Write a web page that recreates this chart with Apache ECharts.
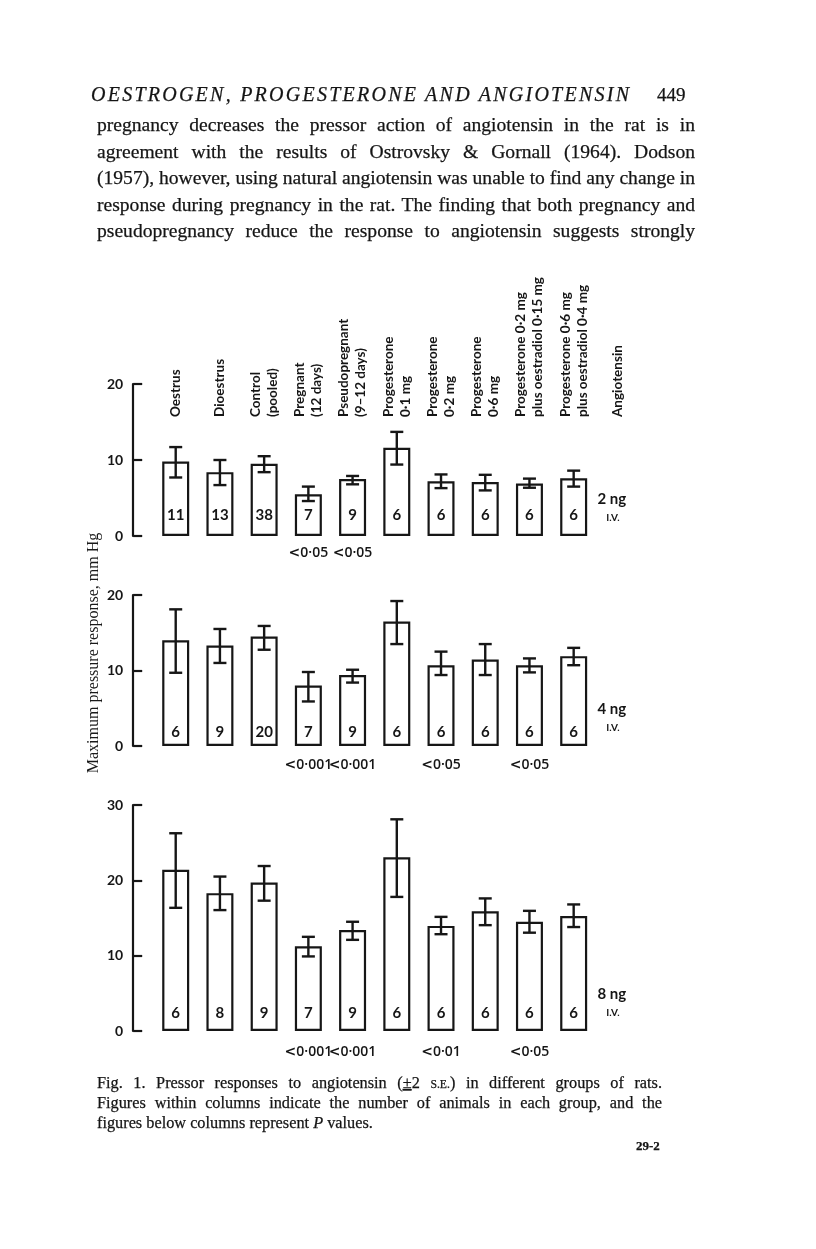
<!DOCTYPE html>
<html>
<head>
<meta charset="utf-8">
<script src="https://cdn.jsdelivr.net/npm/echarts@6/dist/echarts.min.js"></script>
<style>
html,body{margin:0;padding:0;background:#fff;}
#chart{position:absolute;left:0;top:0;width:816px;height:1249px;}
#page{position:absolute;left:0;top:0;pointer-events:none;}
#page text{font-family:'Liberation Serif','DejaVu Serif',serif;fill:#151515;stroke:#151515;stroke-width:0.25px;}
</style>
</head>
<body>
<div id="chart"></div>
<svg id="page" width="816" height="1249">
  <text x="91" y="101" font-size="20" font-style="italic" textLength="538" lengthAdjust="spacing">OESTROGEN, PROGESTERONE AND ANGIOTENSIN</text>
  <text x="657" y="101" font-size="19">449</text>
  <text class="body just" data-w="598" x="97" y="131">pregnancy decreases the pressor action of angiotensin in the rat is in</text>
  <text class="body just" data-w="598" x="97" y="157.5">agreement with the results of Ostrovsky &amp; Gornall (1964). Dodson</text>
  <text class="body just ref" data-w="598" x="97" y="184">(1957), however, using natural angiotensin was unable to find any change in</text>
  <text class="body just" data-w="598" x="97" y="210.5">response during pregnancy in the rat. The finding that both pregnancy and</text>
  <text class="body just" data-w="598" x="97" y="237">pseudopregnancy reduce the response to angiotensin suggests strongly</text>
  <text class="cap just" data-w="565" x="97" y="1088">Fig. 1. Pressor responses to angiotensin (<tspan text-decoration="underline">±</tspan>2 <tspan class="sc">S.E.</tspan>) in different groups of rats.</text>
  <text class="cap just" data-w="565" x="97" y="1108">Figures within columns indicate the number of animals in each group, and the</text>
  <text class="cap ref" data-w="276" x="97" y="1128">figures below columns represent <tspan font-style="italic">P</tspan> values.</text>
  <text x="636" y="1150" font-size="13" font-weight="bold">29-2</text>
</svg>
<script>
// ---------------- data ----------------
const categories = ['Oestrus', 'Dioestrus', 'Control\n(pooled)', 'Pregnant\n(12 days)',
  'Pseudopregnant\n(9–12 days)', 'Progesterone\n0·1 mg', 'Progesterone\n0·2 mg',
  'Progesterone\n0·6 mg', 'Progesterone 0·2 mg\nplus oestradiol 0·15 mg',
  'Progesterone 0·6 mg\nplus oestradiol 0·4 mg', 'Angiotensin'];

const doseLabels = ['2 ng', '4 ng', '8 ng'];
const routeLabel = 'I.V.';
const yAxisTitle = 'Maximum pressure response, mm Hg';
const yMaxValues = [20, 20, 30];
const yInterval = 10;

// 2 ng
const mean2 = [9.8, 8.4, 9.5, 5.5, 7.5, 11.6, 7.2, 7.1, 6.9, 7.6];
const low2  = [7.7, 6.7, 8.4, 4.6, 6.8, 9.4, 6.3, 6.0, 6.35, 6.5];
const high2 = [11.7, 10.0, 10.5, 6.5, 7.9, 13.7, 8.1, 8.05, 7.55, 8.6];
const n2    = [11, 13, 38, 7, 9, 6, 6, 6, 6, 6];
const p2    = ['', '', '', '<0·05', '<0·05', '', '', '', '', ''];

// 4 ng
const mean4 = [14.0, 13.3, 14.5, 8.0, 9.4, 16.5, 10.7, 11.45, 10.7, 11.9];
const low4  = [9.7, 11.0, 12.75, 5.9, 8.4, 13.5, 9.4, 9.4, 9.75, 10.7];
const high4 = [18.1, 15.5, 15.9, 9.8, 10.1, 19.2, 12.5, 13.5, 11.6, 13.0];
const n4    = [6, 9, 20, 7, 9, 6, 6, 6, 6, 6];
const p4    = ['', '', '', '<0·001', '<0·001', '', '<0·05', '', '<0·05', ''];

// 8 ng
const mean8 = [21.4, 18.3, 19.7, 11.25, 13.4, 23.05, 13.95, 15.9, 14.5, 15.25];
const low8  = [16.35, 16.05, 17.3, 9.9, 12.1, 17.8, 12.85, 14.05, 13.05, 13.8];
const high8 = [26.25, 20.5, 21.9, 12.5, 14.5, 28.1, 15.15, 17.6, 15.95, 16.8];
const n8    = [6, 8, 9, 7, 9, 6, 6, 6, 6, 6];
const p8    = ['', '', '', '<0·001', '<0·001', '', '<0·01', '', '<0·05', ''];

const panels = [
  {mean: mean2, low: low2, high: high2, n: n2, p: p2},
  {mean: mean4, low: low4, high: high4, n: n4, p: p4},
  {mean: mean8, low: low8, high: high8, n: n8, p: p8}
];

// ---------------- layout / style ----------------
const INK = '#161616';
const SANS = "Lato, 'Open Sans', 'Liberation Sans', sans-serif";
const PSANS = "'Open Sans', Lato, sans-serif";
const SERIF = "'Liberation Serif', 'DejaVu Serif', serif";
const GRID_LEFT = 153.6, GRID_W = 486.4, AXIS_OFFSET = 20.4;
const gridTop = [384, 595, 805];
const gridH = [152, 151, 226];
const nLabelDist = [13, 6, 10];
const pMargin = [10, 12, 14];
const headerAxisY = 418;

const grids = [], xAxes = [], yAxes = [], series = [];
panels.forEach((pn, i) => {
  grids.push({left: GRID_LEFT, width: GRID_W, top: gridTop[i], height: gridH[i]});
  xAxes.push({
    type: 'category', gridIndex: i, data: categories,
    axisLine: {show: false}, axisTick: {show: false}, splitLine: {show: false},
    axisLabel: {interval: 0, margin: pMargin[i], color: INK, fontFamily: PSANS,
      fontSize: 14, fontWeight: 600,
      formatter: (v, idx) => pn.p[idx] ? '{lt|<}' + pn.p[idx].slice(1) : '',
      rich: {lt: {fontFamily: "'DejaVu Sans', sans-serif", fontSize: 14, color: INK}}}
  });
  yAxes.push({
    type: 'value', gridIndex: i, min: 0, max: yMaxValues[i], interval: yInterval,
    offset: AXIS_OFFSET,
    axisLine: {show: true, lineStyle: {color: INK, width: 2.2}},
    axisTick: {show: true, inside: true, length: 9, lineStyle: {color: INK, width: 2.2}},
    axisLabel: {margin: 10, color: INK, fontFamily: SANS, fontWeight: 'bold', fontSize: 14},
    splitLine: {show: false}
  });
  series.push({
    type: 'bar', xAxisIndex: i, yAxisIndex: i, data: pn.mean, barWidth: 27,
    silent: true,
    itemStyle: {color: '#fff', borderColor: INK, borderWidth: 2.2},
    label: {show: true, position: 'insideBottom', distance: nLabelDist[i],
      formatter: (p) => String(pn.n[p.dataIndex]), color: INK,
      fontFamily: SANS, fontWeight: 'bold', fontSize: 15}
  });
  series.push({
    type: 'custom', xAxisIndex: i, yAxisIndex: i, silent: true, z: 5,
    data: pn.low.map((lo, k) => [k, lo, pn.high[k]]),
    encode: {x: 0, y: [1, 2]},
    renderItem: (params, api) => {
      const x = api.value(0);
      const t = api.coord([x, api.value(2)]);
      const b = api.coord([x, api.value(1)]);
      const cw = 6.5;
      const style = {stroke: INK, lineWidth: 2.4};
      return {type: 'group', children: [
        {type: 'line', shape: {x1: t[0], y1: t[1], x2: b[0], y2: b[1]}, style},
        {type: 'line', shape: {x1: t[0] - cw, y1: t[1], x2: t[0] + cw, y2: t[1]}, style},
        {type: 'line', shape: {x1: b[0] - cw, y1: b[1], x2: b[0] + cw, y2: b[1]}, style}
      ]};
    }
  });
});

// header (group names) axis
grids.push({left: GRID_LEFT, width: GRID_W, top: headerAxisY, height: 1});
xAxes.push({
  type: 'category', gridIndex: 3, position: 'top', data: categories,
  axisLine: {show: false}, axisTick: {show: false},
  axisLabel: {interval: 0, rotate: 90, margin: 1, color: INK, fontFamily: SANS,
    fontWeight: 'bold', fontSize: 13.5, lineHeight: 17}
});
yAxes.push({type: 'value', gridIndex: 3, show: false});

// dose labels & y-axis title
const graphics = [];
const bandW = GRID_W / categories.length;
const doseX = GRID_LEFT + bandW * 10.5 - 6;
doseLabels.forEach((d, i) => {
  const bottom = gridTop[i] + gridH[i];
  graphics.push({type: 'text', x: doseX, y: bottom - 37,
    style: {text: d, fill: INK, font: "bold 15px " + SANS, align: 'center', verticalAlign: 'middle'}});
  graphics.push({type: 'text', x: doseX + 1, y: bottom - 18,
    style: {text: routeLabel, fill: INK, font: "bold 10px " + SANS, align: 'center', verticalAlign: 'middle'}});
});
graphics.push({type: 'text', x: 94, y: 653, rotation: Math.PI / 2,
  style: {text: yAxisTitle, fill: '#1a1a1a', font: "16px " + SERIF, align: 'center', verticalAlign: 'middle'}});

const chart = echarts.init(document.getElementById('chart'), null, {renderer: 'canvas'});
chart.setOption({
  backgroundColor: '#fff',
  animation: false,
  grid: grids, xAxis: xAxes, yAxis: yAxes, series: series,
  graphic: graphics
});

// size page text so that the unjustified reference line fits its measured width, then justify
function fitGroup(cls) {
  const all = document.querySelectorAll('#page text.' + cls);
  const ref = document.querySelector('#page text.' + cls + '.ref');
  all.forEach(el => { el.setAttribute('font-size', '20'); el.style.wordSpacing = '0px'; });
  const size = 20 * (+ref.getAttribute('data-w')) / ref.getComputedTextLength();
  all.forEach(el => el.setAttribute('font-size', size.toFixed(2)));
  document.querySelectorAll('#page text.' + cls + ' tspan.sc').forEach(t => t.setAttribute('font-size', (size * 0.72).toFixed(2)));
  all.forEach(el => {
    if (!el.classList.contains('just')) return;
    const target = +el.getAttribute('data-w');
    const spaces = (el.textContent.match(/ /g) || []).length;
    const w = el.getComputedTextLength();
    if (spaces) el.style.wordSpacing = ((target - w) / spaces) + 'px';
  });
}
function layoutText() { fitGroup('body'); fitGroup('cap'); }
layoutText();
if (document.fonts && document.fonts.ready) document.fonts.ready.then(layoutText);
</script>
</body>
</html>
